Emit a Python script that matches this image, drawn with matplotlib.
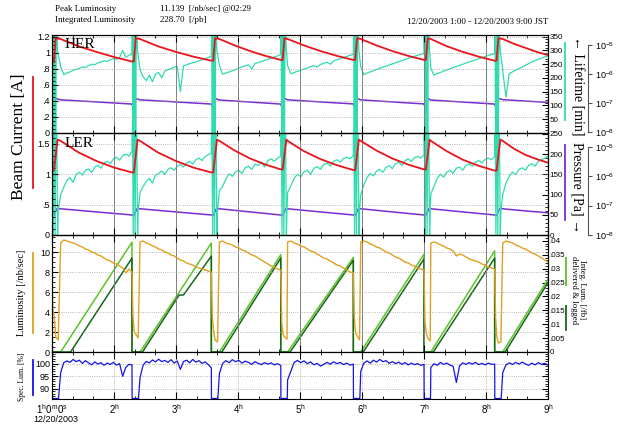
import numpy as np
import matplotlib.pyplot as plt
from matplotlib.lines import Line2D
from matplotlib.ticker import FixedLocator, FixedFormatter, MultipleLocator, NullLocator, FuncFormatter

plt.rcParams['font.family'] = ['Liberation Sans', 'DejaVu Sans']
plt.rcParams['mathtext.default'] = 'regular'
SERIF = ['Liberation Serif', 'DejaVu Serif']

RED = '#e8141c'
CYAN = '#2fdcb0'
PURPLE = '#7a2ed0'
ORANGE = '#e0a020'
LGREEN = '#5cc22a'
DGREEN = '#17661a'
BLUE = '#1414e6'

# injection windows (hours)
inj_start = [1.00, 2.29, 3.57, 4.69, 5.86, 7.00, 8.14]
inj_end = [1.14, 2.42, 3.70, 4.80, 5.98, 7.11, 8.27]
fill_end = [2.29, 3.57, 4.69, 5.86, 7.00, 8.14, 9.00]

# HER beam current [A]
her_cur_first = (1.00, 0.88)
her_cur_rel = [0.03, 0.06]
her_cur_inj = [[0.88, 1.18], [0.89, 1.18], [0.90, 1.18], [0.91, 1.18],
               [0.91, 1.18], [0.91, 1.18], [0.90, 1.18]]
her_cur_fill = [[1.17, 1.08, 1.01, 0.945, 0.89], [1.17, 1.08, 1.01, 0.95, 0.90],
                [1.17, 1.09, 1.02, 0.96, 0.91], [1.17, 1.09, 1.02, 0.96, 0.91],
                [1.17, 1.09, 1.02, 0.96, 0.91], [1.17, 1.08, 1.01, 0.95, 0.90],
                [1.17, 1.11, 1.06, 1.01, 0.97]]

# HER lifetime [min]
her_life_first = (1.00, 290)
her_life_rel = [0.005, 0.015, 0.025, 0.035, 0.05, 0.06, 0.07, 0.09]
her_life_inj = [[400, 0, 400, 0, 400, 0, 400, 300]] * 7
her_life_fill = [
    [240, 212, 218, 222, 228, 231, 235, 240, 238, 245, 250, 248, 255, 258, 262, 260, 266, 270, 268, 274, 300, 276, 282, 286],
    [230, 204, 190, 210, 186, 214, 220, 200, 225, 230, 234, 238, 242, 150, 244, 248, 252, 255, 258, 262, 266, 270, 274, 279],
    [245, 214, 218, 222, 226, 230, 236, 240, 244, 248, 233, 252, 256, 260, 264, 268, 272, 276, 280, 286],
    [245, 215, 220, 224, 228, 232, 236, 241, 245, 240, 249, 253, 257, 250, 262, 266, 270, 274, 278, 282, 286],
    [240, 212, 218, 222, 226, 231, 235, 239, 243, 247, 251, 255, 259, 263, 267, 271, 275, 279, 282, 286, 289],
    [235, 210, 216, 220, 225, 229, 233, 238, 242, 246, 250, 254, 258, 262, 266, 270, 274, 278, 282, 285, 288],
    [225, 130, 215, 222, 228, 234, 240, 246, 252, 258, 263, 268, 272, 276, 279]]

# HER pressure [Pa]
her_p_first = (1.00, 9.3e-8)
her_p_rel = [0.01, 0.04, 0.06]
her_p_inj = [[8.0e-8, 8.0e-8, 1.45e-7]] * 7
her_p_fill = [[1.30e-7, 1.10e-7, 9.3e-8], [1.30e-7, 1.10e-7, 9.3e-8], [1.28e-7, 1.09e-7, 9.3e-8],
              [1.30e-7, 1.10e-7, 9.4e-8], [1.30e-7, 1.10e-7, 9.4e-8], [1.28e-7, 1.09e-7, 9.3e-8],
              [1.32e-7, 1.18e-7, 1.06e-7]]

# LER beam current [A]
ler_cur_first = (1.00, 1.06)
ler_cur_rel = [0.03, 0.09]
ler_cur_inj = [[1.06, 1.57], [1.03, 1.57], [1.03, 1.57], [1.08, 1.57],
               [1.07, 1.57], [1.08, 1.57], [1.06, 1.57]]
ler_cur_fill = [[1.55, 1.36, 1.22, 1.11, 1.03], [1.55, 1.36, 1.22, 1.11, 1.03],
                [1.55, 1.39, 1.26, 1.16, 1.08], [1.55, 1.38, 1.25, 1.15, 1.07],
                [1.55, 1.39, 1.26, 1.16, 1.08], [1.55, 1.38, 1.24, 1.14, 1.06],
                [1.55, 1.42, 1.32, 1.25, 1.19]]

# LER lifetime [min]
ler_life_first = (1.00, 205)
ler_life_rel = [0.005, 0.02, 0.035, 0.05, 0.07, 0.09, 0.10]
ler_life_inj = [[400, 0, 400, 0, 400, 0, 60]] * 7
ler_life_fill = [
    [100, 118, 135, 142, 130, 150, 155, 148, 160, 163, 155, 168, 172, 165, 178, 182, 176, 188, 192, 185, 196, 200, 195, 206],
    [105, 120, 132, 140, 128, 148, 152, 158, 150, 162, 166, 160, 170, 174, 168, 178, 182, 175, 186, 190, 184, 194, 198, 202],
    [110, 120, 138, 151, 145, 156, 160, 152, 166, 170, 162, 175, 172, 180, 168, 184, 188, 182, 190, 194],
    [105, 122, 140, 150, 144, 156, 160, 150, 165, 169, 162, 174, 178, 170, 182, 186, 180, 189, 192, 188, 196],
    [100, 125, 142, 152, 146, 158, 162, 155, 167, 171, 164, 176, 180, 172, 184, 188, 182, 191, 194, 190, 198],
    [102, 120, 140, 150, 143, 155, 160, 152, 165, 168, 160, 172, 176, 170, 180, 184, 178, 187, 190, 186, 194],
    [100, 128, 145, 155, 150, 162, 166, 160, 172, 176, 170, 182, 186, 190, 195]]

# LER pressure [Pa]
ler_p_first = (1.00, 4.8e-8)
ler_p_rel = [0.03, 0.08]
ler_p_inj = [[4.6e-8, 7.8e-8]] * 7
ler_p_fill = [[7.8e-8, 6.1e-8, 4.8e-8]] * 6 + [[7.8e-8, 6.6e-8, 5.7e-8]]

# Luminosity [/nb/sec]
lum_first = (1.00, 8.0)
lum_rel = [0.015, 0.035, 0.06, 0.10]
lum_inj = [[4.2, 3.6, 1.5, 1.2], [3.7, 2.0, 1.8, 1.4], [3.5, 2.2, 1.2, 1.0], [3.0, 1.8, 1.5, 1.3],
           [3.6, 2.0, 1.6, 1.2], [3.2, 1.9, 1.4, 1.1], [3.4, 1.5, 0.9, 1.0]]
lum_fill = [
    [10.9, 11.2, 11.1, 11.0, 10.9, 10.8, 10.6, 10.5, 10.3, 10.2, 10.0, 9.9, 9.7, 9.6, 9.4, 9.2, 9.1, 8.9, 8.8, 8.6, 8.4, 7.9, 8.3, 8.0],
    [11.0, 11.1, 10.9, 10.8, 10.6, 10.5, 10.3, 10.2, 10.0, 9.9, 9.7, 9.6, 9.4, 9.2, 9.1, 8.9, 8.8, 8.7, 8.5, 8.4, 8.3, 8.2, 8.1, 8.0],
    [11.0, 11.1, 10.9, 10.8, 10.7, 10.5, 10.4, 10.2, 10.1, 9.9, 9.7, 9.6, 9.4, 9.2, 9.0, 8.8, 8.6, 8.5, 8.3, 8.2],
    [11.0, 11.1, 10.9, 10.8, 10.6, 10.5, 10.3, 10.1, 10.0, 9.8, 9.6, 9.4, 9.3, 9.1, 8.9, 8.7, 8.6, 8.4, 8.2, 8.0, 7.9],
    [11.0, 11.1, 11.0, 10.8, 10.7, 10.5, 10.4, 10.2, 10.0, 9.9, 9.7, 9.5, 9.4, 9.2, 9.0, 8.9, 8.7, 8.6, 8.4, 8.3, 8.2],
    [10.9, 11.0, 10.9, 10.7, 10.6, 10.4, 10.3, 10.1, 9.6, 9.8, 9.7, 9.5, 9.3, 9.2, 9.1, 9.0, 8.8, 8.7, 8.5, 8.4, 8.3],
    [10.9, 11.1, 11.0, 10.9, 10.7, 10.6, 10.4, 10.3, 10.1, 9.9, 9.8, 9.6, 9.4, 9.2, 9.0]]

# Integrated luminosity [/fb], delivered and logged
del_t = [1.00, 1.00, 1.14, 2.29, 2.29, 2.42, 3.57, 3.57, 3.70, 4.69, 4.69, 4.80,
         5.86, 5.86, 5.98, 7.00, 7.00, 7.11, 8.14, 8.14, 8.27, 9.00]
del_v = [0.0380, 0.0, 0.0, 0.0395, 0.0, 0.0, 0.0392, 0.0, 0.0, 0.0350, 0.0, 0.0,
         0.0340, 0.0, 0.0, 0.0352, 0.0, 0.0, 0.0364, 0.0, 0.0, 0.0262]
log_t = [1.00, 1.00, 1.30, 2.29, 2.29, 2.46, 3.05, 3.12, 3.57, 3.57, 3.74, 4.69, 4.69, 4.84,
         5.86, 5.86, 6.02, 7.00, 7.00, 7.15, 8.14, 8.14, 8.31, 9.00]
log_v = [0.0350, 0.0, 0.0, 0.0338, 0.0, 0.0, 0.0205, 0.0205, 0.0345, 0.0, 0.0, 0.0338, 0.0, 0.0,
         0.0330, 0.0, 0.0, 0.0335, 0.0, 0.0, 0.0338, 0.0, 0.0, 0.0250]

# Specific luminosity [%]
spec_first = (1.00, 99.5)
spec_rel = [0.002, 0.105]
spec_inj = [[86.0, 86.0]] * 7
spec_fill = [
    [96.5, 100.5, 101.2, 100.6, 101.8, 100.9, 101.5, 100.2, 101.3, 100.4, 99.6, 100.8, 99.9, 100.5, 99.4, 100.3, 99.8, 100.6, 99.5, 100.1, 95.0, 98.6, 99.8, 99.6],
    [94.5, 99.5, 101.0, 100.4, 101.6, 100.8, 101.9, 100.9, 101.4, 100.6, 101.7, 100.3, 101.2, 97.8, 100.9, 101.5, 100.4, 101.8, 100.7, 101.3, 100.2, 100.8, 99.7, 98.4],
    [96.0, 100.2, 101.3, 100.5, 101.7, 100.9, 101.4, 100.3, 101.1, 100.6, 99.8, 100.9, 100.2, 99.7, 100.5, 99.9, 100.4, 99.6, 100.1, 99.3],
    [93.5, 97.0, 100.6, 101.4, 100.5, 101.2, 100.1, 100.8, 99.6, 100.2, 99.1, 99.8, 100.6, 99.9, 100.8, 100.1, 100.6, 99.7, 100.3, 99.5, 99.9],
    [97.0, 100.4, 101.2, 100.3, 101.5, 100.7, 101.8, 100.9, 101.3, 100.2, 100.9, 100.1, 100.7, 99.8, 100.5, 99.6, 100.3, 99.7, 100.1, 99.4, 99.8],
    [98.5, 100.1, 99.4, 100.6, 99.8, 100.3, 99.5, 99.0, 92.5, 99.2, 100.4, 99.8, 100.5, 99.9, 100.6, 99.7, 100.2, 99.6, 100.3, 99.8, 99.9],
    [96.5, 99.6, 100.4, 99.8, 100.6, 99.9, 100.7, 100.0, 99.4, 100.3, 99.6, 100.5, 99.8, 100.2, 99.5]]

hour_ticks = [1, 2, 3, 4, 5, 6, 7, 8, 9]
hour_labels = [r'$1^h0^m0^s$', r'$2^h$', r'$3^h$', r'$4^h$', r'$5^h$',
               r'$6^h$', r'$7^h$', r'$8^h$', r'$9^h$']


def build(first, rel_t, inj_v, fill_v):
    # join injection transients and fill segments into one polyline
    t, v = [first[0]], [first[1]]
    for k in range(len(inj_start)):
        t += [inj_start[k] + r for r in rel_t]
        v += list(inj_v[k])
        t += list(np.linspace(inj_end[k], fill_end[k], len(fill_v[k])))
        v += list(fill_v[k])
    return t, v


W_PX, H_PX = 617, 426
fig = plt.figure(figsize=(W_PX / 100, H_PX / 100), dpi=100)


def panel(top, bot):
    return fig.add_axes([52 / W_PX, 1 - bot / H_PX, 496 / W_PX, (bot - top) / H_PX])


def style_x(ax, last=False):
    ax.set_xlim(1, 9)
    ax.xaxis.set_major_locator(FixedLocator(hour_ticks))
    ax.xaxis.set_minor_locator(MultipleLocator(1 / 3))
    ax.tick_params(axis='x', which='both', direction='in', top=True, bottom=True,
                   labelbottom=last, labelsize=7, pad=2)
    ax.tick_params(axis='x', which='major', length=5, width=0.8)
    ax.tick_params(axis='x', which='minor', length=2.5, width=0.6)
    for s in ax.spines.values():
        s.set_linewidth(0.8)


def style_left(ax, ticks, labels, minor):
    ax.yaxis.set_major_locator(FixedLocator(ticks))
    ax.yaxis.set_major_formatter(FixedFormatter(labels))
    ax.yaxis.set_minor_locator(MultipleLocator(minor))
    ax.tick_params(axis='y', which='both', direction='in', left=True, right=False,
                   labelsize=6.5, pad=1.5)
    ax.tick_params(axis='y', which='major', length=4)
    ax.tick_params(axis='y', which='minor', length=2)


def style_right(ax, ticks, labels, minor):
    ax.yaxis.set_major_locator(FixedLocator(ticks))
    ax.yaxis.set_major_formatter(FixedFormatter(labels))
    ax.yaxis.set_minor_locator(MultipleLocator(minor))
    ax.tick_params(axis='y', which='both', direction='in', right=True, left=False,
                   labelsize=5.8, pad=1.2)
    ax.tick_params(axis='y', which='major', length=4)
    ax.tick_params(axis='y', which='minor', length=2)


def style_log(ax, lo, hi):
    ax.set_yscale('log')
    ax.set_ylim(lo, hi)
    ax.spines['right'].set_position(('outward', 29))
    ax.spines['right'].set_bounds(1e-8, 1e-5)
    ax.spines['right'].set_color('#555555')
    for s in ('top', 'bottom', 'left'):
        ax.spines[s].set_visible(False)
    ax.yaxis.set_major_locator(FixedLocator([1e-8, 1e-7, 1e-6, 1e-5]))
    ax.yaxis.set_minor_locator(NullLocator())
    ax.yaxis.set_major_formatter(FuncFormatter(lambda v, p: r'$10^{%d}$' % round(np.log10(v))))
    ax.tick_params(axis='y', direction='out', length=3, labelsize=6.5, pad=1.5, color='#555555')


def grids(ax):
    ax.grid(axis='x', which='major', color='#808080', lw=0.7, ls='-')
    ax.grid(axis='y', which='major', color='#a0a0a0', lw=0.6, ls=':')


def ring_panel(top, bot, name, cur, life, pres, cur_lim, life_lim, p_lim,
               lticks, llabels, lminor, rticks, rlabels):
    ax = panel(top, bot)
    axl = ax.twinx()
    axp = ax.twinx()
    ax.set_zorder(3)
    ax.patch.set_visible(False)
    axl.set_zorder(2)
    axp.set_zorder(1)
    axl.plot(*life, color=CYAN, lw=0.9)
    axp.plot(*pres, color=PURPLE, lw=1.1)
    ax.plot(*cur, color=RED, lw=1.3)
    ax.set_ylim(*cur_lim)
    axl.set_ylim(*life_lim)
    style_x(ax)
    style_left(ax, lticks, llabels, lminor)
    style_right(axl, rticks, rlabels, 10)
    style_log(axp, *p_lim)
    grids(ax)
    ax.text(0.026, 0.90, name, transform=ax.transAxes, fontsize=11,
            family=SERIF, va='center')
    return ax


ring_panel(35, 133, 'HER',
           build(her_cur_first, her_cur_rel, her_cur_inj, her_cur_fill),
           build(her_life_first, her_life_rel, her_life_inj, her_life_fill),
           build(her_p_first, her_p_rel, her_p_inj, her_p_fill),
           (0, 1.22), (0, 356), (10 ** -8.03, 10 ** -4.65),
           [0, .2, .4, .6, .8, 1, 1.2], ['0', '.2', '.4', '.6', '.8', '1', '1.2'], 0.05,
           [50, 100, 150, 200, 250, 300, 350], ['50', '100', '150', '200', '250', '300', '350'])

ring_panel(133, 235, 'LER',
           build(ler_cur_first, ler_cur_rel, ler_cur_inj, ler_cur_fill),
           build(ler_life_first, ler_life_rel, ler_life_inj, ler_life_fill),
           build(ler_p_first, ler_p_rel, ler_p_inj, ler_p_fill),
           (0, 1.68), (0, 252), (1e-8, 10 ** -4.53),
           [0, .5, 1, 1.5], ['0', '.5', '1', '1.5'], 0.1,
           [0, 50, 100, 150, 200, 250], ['0', '50', '100', '150', '200', '250'])

# luminosity panel
ax_lum = panel(235, 352)
ax_int = ax_lum.twinx()
ax_lum.set_zorder(3)
ax_lum.patch.set_visible(False)
ax_int.plot(del_t, del_v, color=LGREEN, lw=1.1)
ax_int.plot(log_t, log_v, color=DGREEN, lw=1.1)
ax_lum.plot(*build(lum_first, lum_rel, lum_inj, lum_fill), color=ORANGE, lw=1.0)
ax_lum.set_ylim(0, 11.7)
ax_int.set_ylim(0, 0.0421)
style_x(ax_lum)
style_left(ax_lum, [0, 2, 4, 6, 8, 10], ['0', '2', '4', '6', '8', '10'], 0.5)
style_right(ax_int, [0, .005, .01, .015, .02, .025, .03, .035, .04],
            ['0', '.005', '.01', '.015', '.02', '.025', '.03', '.035', '.04'], 0.001)
grids(ax_lum)

# specific luminosity panel
ax_spec = panel(352, 399)
ax_spec.plot(*build(spec_first, spec_rel, spec_inj, spec_fill), color=BLUE, lw=0.9)
ax_spec.set_ylim(85.8, 104.8)
style_x(ax_spec, last=True)
style_left(ax_spec, [90, 95, 100], ['90', '95', '100'], 1)
ax_spec.tick_params(axis='y', which='both', right=True)
ax_spec.grid(axis='both', which='major', color='#a0a0a0', lw=0.6, ls=':')
ax_spec.xaxis.set_major_formatter(FixedFormatter(hour_labels))


def fx(x):
    return x / W_PX


def fy(y):
    return 1 - y / H_PX


def key_line(x, y0, y1, color):
    fig.add_artist(Line2D([fx(x), fx(x)], [fy(y0), fy(y1)], transform=fig.transFigure,
                          color=color, lw=1.3))


# header
hdr = dict(fontsize=6.5, family=SERIF, va='center')
fig.text(fx(55), fy(9), 'Peak Luminosity', **hdr)
fig.text(fx(160), fy(9), '11.139  [/nb/sec] @02:29', **hdr)
fig.text(fx(55), fy(20), 'Integrated Luminosity', **hdr)
fig.text(fx(160), fy(20), '228.70  [/pb]', **hdr)
fig.text(fx(548), fy(22), '12/20/2003 1:00 - 12/20/2003 9:00 JST', ha='right', **hdr)
fig.text(fx(33), fy(419), '12/20/2003', fontsize=6.5, va='center')

# left side labels
fig.text(fx(19), fy(137), 'Beam Current [A]', rotation=90, ha='center', va='center',
         fontsize=12.5, family=SERIF)
key_line(33, 77, 188, RED)
fig.text(fx(22), fy(293), 'Luminosity [/nb/sec]', rotation=90, ha='center', va='center',
         fontsize=7.5, family=SERIF)
key_line(33, 253, 333, ORANGE)
fig.text(fx(22), fy(377), 'Spec. Lum. [%]', rotation=90, ha='center', va='center',
         fontsize=5.5, family=SERIF)
key_line(33, 360, 395, BLUE)

# right side labels
fig.text(fx(577), fy(86), '\u2190 Lifetime [min]', rotation=270, ha='center', va='center',
         fontsize=10, family=SERIF)
key_line(565, 43, 120, CYAN)
fig.text(fx(577), fy(188), 'Pressure [Pa] \u2192', rotation=270, ha='center', va='center',
         fontsize=10, family=SERIF)
key_line(565, 145, 220, PURPLE)
fig.text(fx(578), fy(290), 'Integ. Lum. [/fb]\ndelivered & logged', rotation=270,
         ha='center', va='center', fontsize=6.3, family=SERIF, linespacing=1.0)
key_line(566, 258, 285, LGREEN)
key_line(566, 306, 330, DGREEN)

fig.savefig('out.png', dpi=100)
